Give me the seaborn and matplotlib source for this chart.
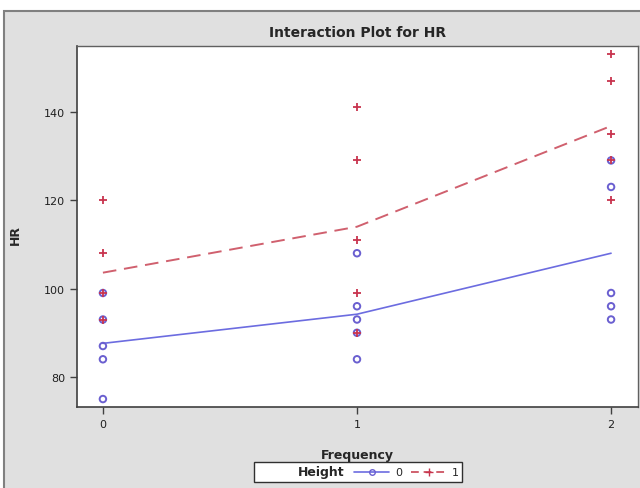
import matplotlib
matplotlib.use("Agg")
import matplotlib.pyplot as plt
import seaborn as sns
import pandas as pd
from matplotlib.lines import Line2D
from matplotlib.patches import Rectangle

# Data
freq_levels = [0, 1, 2]
hr_h0_f0 = [99, 93, 87, 84, 75]
hr_h0_f1 = [108, 96, 93, 90, 84]
hr_h0_f2 = [129, 123, 99, 96, 93]
hr_h1_f0 = [120, 108, 99, 93]
hr_h1_f1 = [141, 129, 111, 99, 90]
hr_h1_f2 = [153, 147, 135, 129, 120]
mean_h0 = [87.6, 94.2, 108.0]
mean_h1 = [103.6, 114.0, 136.8]
y_ticks = [80, 100, 120, 140]
x_ticks = [0, 1, 2]

rows = []
for h, groups in ((0, [hr_h0_f0, hr_h0_f1, hr_h0_f2]), (1, [hr_h1_f0, hr_h1_f1, hr_h1_f2])):
    for f, vals in zip(freq_levels, groups):
        for v in vals:
            rows.append({"Frequency": f, "HR": v, "Height": h})
df = pd.DataFrame(rows)
means = pd.DataFrame({"Frequency": freq_levels * 2,
                      "HR": mean_h0 + mean_h1,
                      "Height": [0] * 3 + [1] * 3})

sns.set_theme(style="white")
plt.rcParams['font.family'] = ['DejaVu Sans']

bg = "#e0e0e0"
blue = "#6a5fd0"
red = "#c8344e"
red_line = "#d0606e"
blue_line = "#6c6ce0"

fig = plt.figure(figsize=(6.4, 4.89), dpi=100)
fig.patch.set_facecolor("white")
fig.patches.append(Rectangle((4 / 640, -0.01), 1.0, 1 - 12 / 489 + 0.01,
                             transform=fig.transFigure, facecolor=bg,
                             edgecolor="#808080", linewidth=1.5, zorder=-10))

ax = fig.add_axes([77 / 640, 1 - 408 / 489, 561 / 640, 361 / 489])
ax.set_zorder(1)
ax.set_facecolor("white")

sns.lineplot(data=means[means.Height == 0], x="Frequency", y="HR", ax=ax,
             color=blue_line, linewidth=1.2, legend=False)
sns.lineplot(data=means[means.Height == 1], x="Frequency", y="HR", ax=ax,
             color=red_line, linewidth=1.4, legend=False)
ax.lines[-1].set_dashes([7, 4])

d0 = df[df.Height == 0]
d1 = df[df.Height == 1]
ax.scatter(d0.Frequency, d0.HR, marker="o", s=22, facecolors="none",
           edgecolors=blue, linewidths=1.4, zorder=3)
ax.scatter(d1.Frequency, d1.HR, marker="+", s=40, color=red,
           linewidths=1.3, zorder=3)

ax.set_xlim(-0.102, 2.106)
ax.set_ylim(73.2, 154.9)
ax.set_xticks(x_ticks)
ax.set_yticks(y_ticks)
ax.tick_params(axis="both", which="both", length=5, width=1, color="#404040",
               labelsize=8, labelcolor="#202020", direction="out", bottom=True, left=True)
for side in ["left", "bottom"]:
    ax.spines[side].set_color("#404040")
    ax.spines[side].set_linewidth(1.2)
for side in ["right", "top"]:
    ax.spines[side].set_color("#606060")
    ax.spines[side].set_linewidth(1.0)

ax.set_xlabel("Frequency", fontsize=9, fontweight="bold")
ax.xaxis.set_label_coords((357 - 77) / 561, -(449 - 408) / 361)
ax.set_ylabel("HR", fontsize=9, fontweight="bold")
ax.yaxis.set_label_coords((22 - 77) / 561, (408 - 235) / 361)
ax.set_title("Interaction Plot for HR", fontsize=10, fontweight="bold", pad=7)

handles = [
    Line2D([], [], linestyle="none", label="Height"),
    Line2D([], [], color=blue_line, linewidth=1.2, marker="o", markersize=4,
           markerfacecolor="none", markeredgecolor=blue, label="0"),
    Line2D([], [], color=red_line, linewidth=1.4, linestyle=(0, (4, 2.5)),
           marker="+", markersize=6, markeredgecolor=red, label="1"),
]
leg = fig.legend(handles=handles, loc="center", bbox_to_anchor=(358 / 640, 1 - 473 / 489),
                 ncol=3, frameon=True, fontsize=8, handlelength=3.2,
                 handletextpad=0.5, columnspacing=0.8, borderpad=0.3,
                 fancybox=False, edgecolor="#303030", facecolor="white", framealpha=1)
leg.get_frame().set_linewidth(1.0)
texts = leg.get_texts()
texts[0].set_fontweight("bold")
texts[0].set_fontsize(9)
# "Height" is a title-like entry without a handle: shrink its empty handle space
leg.legend_handles[0].set_visible(False)

fig.savefig("out.png", dpi=100)
